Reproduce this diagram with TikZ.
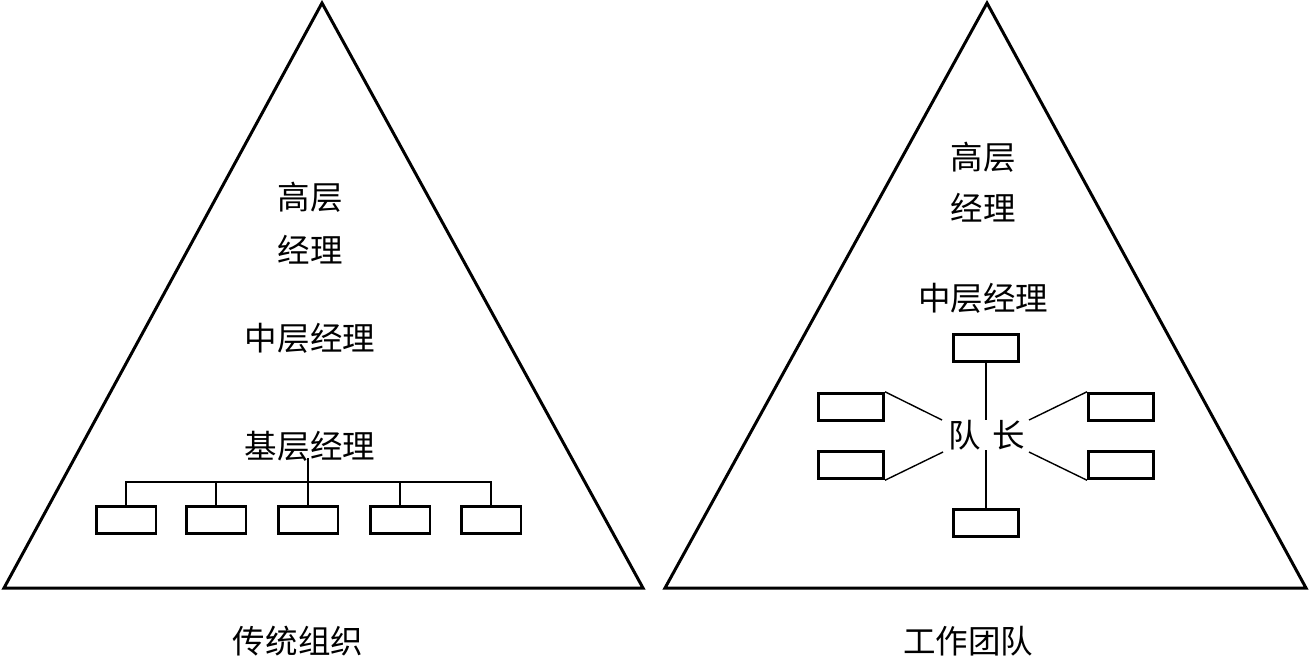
\documentclass[tikz,border=0pt]{standalone}
\usepackage{fontspec}
\newfontfamily\cjk{Noto Sans CJK SC}
\begin{document}
\begin{tikzpicture}[x=0.02cm,y=-0.02cm,
  tri/.style={line width=1.7pt,line join=miter},
  box/.style={draw,line width=1.7pt,minimum width=1.2cm,minimum height=0.55cm,inner sep=0pt},
  conn/.style={line width=0.8pt},
  lbl/.style={font=\cjk\fontsize{18.5}{24}\selectfont,inner sep=1pt},
  captext/.style={font=\cjk\fontsize{18.5}{24}\selectfont,inner sep=1pt}]
\useasboundingbox (0,0) rectangle (1310,657);
% left triangle
\coordinate (LA) at (322,3);
\coordinate (LB) at (4,588);
\coordinate (LC) at (643,588);
\draw[tri] (LA) -- (LB) -- (LC) -- cycle;
% right triangle
\coordinate (RA) at (987,3);
\coordinate (RB) at (665,588);
\coordinate (RC) at (1306,588);
\draw[tri] (RA) -- (RB) -- (RC) -- cycle;
% left texts
\node[lbl] (lg1) at (310,197) {高层};
\node[lbl] (lg2) at (310,250) {经理};
\node[lbl] (lm) at (310,338) {中层经理};
\node[lbl] (lb) at (310,446) {基层经理};
% left boxes
\node[box] (b1) at (126,520) {};
\node[box] (b2) at (216,520) {};
\node[box] (b3) at (308,520) {};
\node[box] (b4) at (400,520) {};
\node[box] (b5) at (491,520) {};
\coordinate (hub) at (308,482);
\coordinate (top) at (308,458);
\draw[conn] (top) -- (b3.north);
\draw[conn] (b1.north) |- (hub) -| (b5.north);
\draw[conn] (b2.north) -- (b2.north |- hub);
\draw[conn] (b4.north) -- (b4.north |- hub);
% right texts
\node[lbl] (rg1) at (983,157) {高层};
\node[lbl] (rg2) at (983,208) {经理};
\node[lbl] (rm) at (983,298) {中层经理};
\node[lbl] (leader) at (987,435) {队\hspace{0.35em}长};
% right boxes
\node[box,minimum width=1.3cm] (t) at (986,348) {};
\node[box,minimum width=1.3cm] (bt) at (986,523) {};
\node[box,minimum width=1.3cm] (ul) at (851,407) {};
\node[box,minimum width=1.3cm] (ll) at (851,465) {};
\node[box,minimum width=1.3cm] (ur) at (1121,407) {};
\node[box,minimum width=1.3cm] (lr) at (1121,465) {};
\coordinate (c1) at (986,420);
\coordinate (c2) at (986,450);
\coordinate (p1) at (942,420);
\coordinate (p2) at (943,452);
\coordinate (p3) at (1029,420);
\coordinate (p4) at (1029,452);
\draw[conn] (t.south) -- (c1);
\draw[conn] (c2) -- (bt.north);
\draw[conn] (ul.north east) -- (p1);
\draw[conn] (ll.south east) -- (p2);
\draw[conn] (ur.north west) -- (p3);
\draw[conn] (lr.south west) -- (p4);
% captions
\node[captext] (capL) at (298,641) {传统组织};
\node[captext] (capR) at (968,641) {工作团队};
\end{tikzpicture}
\end{document}
